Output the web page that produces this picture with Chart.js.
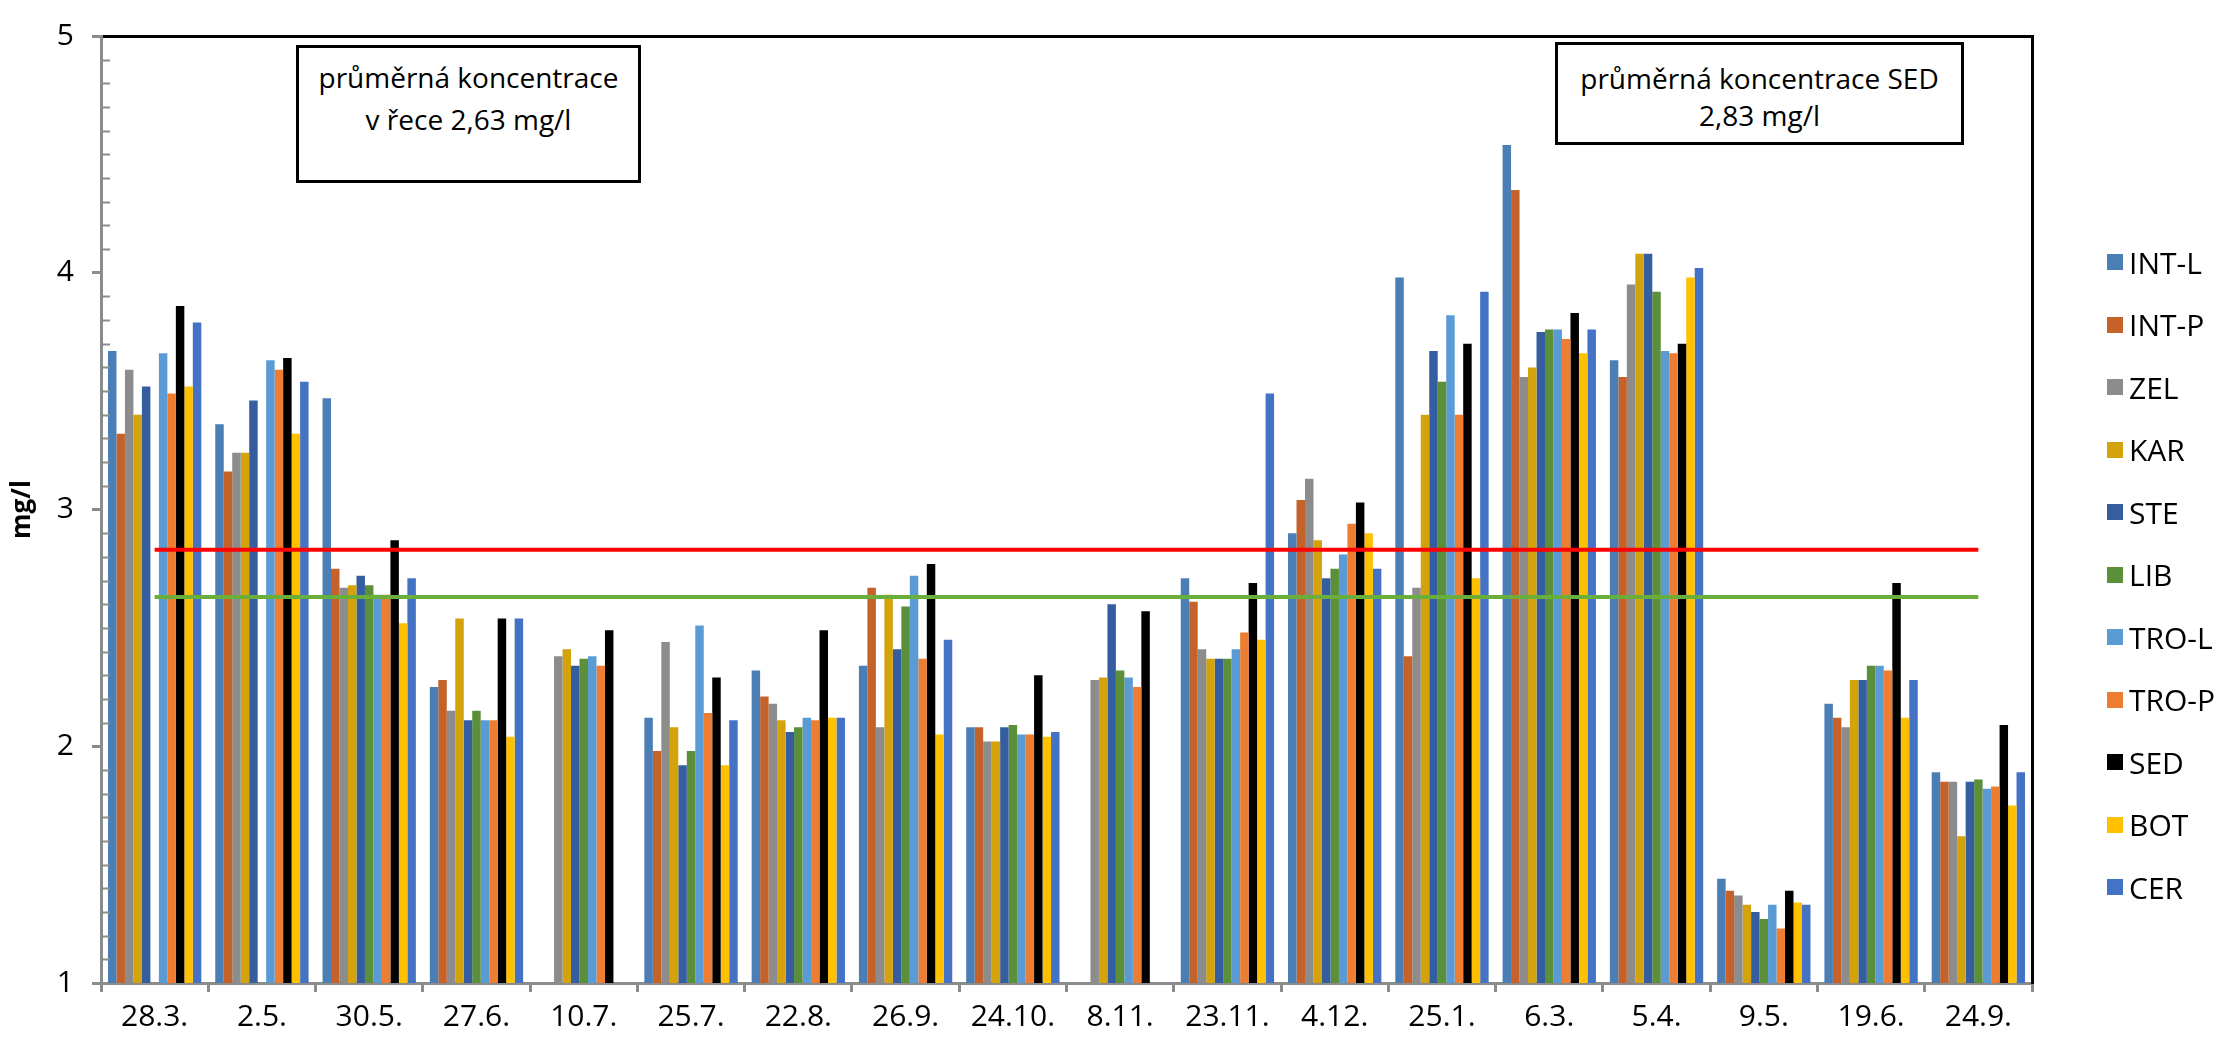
<!DOCTYPE html>
<html>
<head>
<meta charset="utf-8">
<script src="https://cdn.jsdelivr.net/npm/chart.js@4.4.1/dist/chart.umd.min.js"></script>
<style>
  html, body { margin: 0; padding: 0; background: #fff; }
  #wrap { position: relative; width: 2219px; height: 1048px; }
  #chart { position: absolute; left: 0; top: 0; }
  .note {
    position: absolute; box-sizing: border-box; border: 3px solid #000; background: #fff;
    text-align: center; font-family: 'Open Sans', sans-serif; font-size: 28px; color: #000; white-space: nowrap;
  }
  #legend { position: absolute; left: 2107px; top: 231px; font-family: 'Open Sans', sans-serif; font-size: 30px; color: #000; }
  .item { height: 62.5px; display: flex; align-items: center; white-space: nowrap; }
  .swatch { width: 16px; height: 16px; margin-right: 6px; flex: none; }
</style>
</head>
<body>
<div id="wrap">
  <canvas id="chart" width="2219" height="1048"></canvas>
  <div class="note" style="left:296px;top:45px;width:345px;height:138px;padding-top:8px;line-height:42px;">průměrná koncentrace<br>v řece 2,63 mg/l</div>
  <div class="note" style="left:1555px;top:42px;width:409px;height:103px;padding-top:15px;line-height:37px;">průměrná koncentrace SED<br>2,83 mg/l</div>
  <div id="legend"></div>
</div>
<script>
// sampling dates
const dates = ['28.3.', '2.5.', '30.5.', '27.6.', '10.7.', '25.7.', '22.8.', '26.9.', '24.10.',
               '8.11.', '23.11.', '4.12.', '25.1.', '6.3.', '5.4.', '9.5.', '19.6.', '24.9.'];

// concentrations per site (mg/l), null = no sample
const intL = [3.67, 3.36, 3.47, 2.25, null, 2.12, 2.32, 2.34, 2.08, null, 2.71, 2.90, 3.98, 4.54, 3.63, 1.44, 2.18, 1.89];
const intP = [3.32, 3.16, 2.75, 2.28, null, 1.98, 2.21, 2.67, 2.08, null, 2.61, 3.04, 2.38, 4.35, 3.56, 1.39, 2.12, 1.85];
const zel  = [3.59, 3.24, 2.67, 2.15, 2.38, 2.44, 2.18, 2.08, 2.02, 2.28, 2.41, 3.13, 2.67, 3.56, 3.95, 1.37, 2.08, 1.85];
const kar  = [3.40, 3.24, 2.68, 2.54, 2.41, 2.08, 2.11, 2.64, 2.02, 2.29, 2.37, 2.87, 3.40, 3.60, 4.08, 1.33, 2.28, 1.62];
const ste  = [3.52, 3.46, 2.72, 2.11, 2.34, 1.92, 2.06, 2.41, 2.08, 2.60, 2.37, 2.71, 3.67, 3.75, 4.08, 1.30, 2.28, 1.85];
const lib  = [null, null, 2.68, 2.15, 2.37, 1.98, 2.08, 2.59, 2.09, 2.32, 2.37, 2.75, 3.54, 3.76, 3.92, 1.27, 2.34, 1.86];
const troL = [3.66, 3.63, 2.64, 2.11, 2.38, 2.51, 2.12, 2.72, 2.05, 2.29, 2.41, 2.81, 3.82, 3.76, 3.67, 1.33, 2.34, 1.82];
const troP = [3.49, 3.59, 2.64, 2.11, 2.34, 2.14, 2.11, 2.37, 2.05, 2.25, 2.48, 2.94, 3.40, 3.72, 3.66, 1.23, 2.32, 1.83];
const sed  = [3.86, 3.64, 2.87, 2.54, 2.49, 2.29, 2.49, 2.77, 2.30, 2.57, 2.69, 3.03, 3.70, 3.83, 3.70, 1.39, 2.69, 2.09];
const bot  = [3.52, 3.32, 2.52, 2.04, null, 1.92, 2.12, 2.05, 2.04, null, 2.45, 2.90, 2.71, 3.66, 3.98, 1.34, 2.12, 1.75];
const cer  = [3.79, 3.54, 2.71, 2.54, null, 2.11, 2.12, 2.45, 2.06, null, 3.49, 2.75, 3.92, 3.76, 4.02, 1.33, 2.28, 1.89];

// averages drawn as horizontal lines
const riverAvg = [2.63, 2.63, 2.63, 2.63, 2.63, 2.63, 2.63, 2.63, 2.63, 2.63, 2.63, 2.63, 2.63, 2.63, 2.63, 2.63, 2.63, 2.63];
const sedAvg   = [2.83, 2.83, 2.83, 2.83, 2.83, 2.83, 2.83, 2.83, 2.83, 2.83, 2.83, 2.83, 2.83, 2.83, 2.83, 2.83, 2.83, 2.83];

const siteNames = ['INT-L', 'INT-P', 'ZEL', 'KAR', 'STE', 'LIB', 'TRO-L', 'TRO-P', 'SED', 'BOT', 'CER'];
const siteValues = [intL, intP, zel, kar, ste, lib, troL, troP, sed, bot, cer];
const siteColors = ['#4a7eb5', '#c5622a', '#8c8c8c', '#d4a20a', '#355ea0', '#5b8f3a',
                    '#5b9bd5', '#ed7d31', '#000000', '#ffc000', '#4472c4'];
const yTicks = [1, 2, 3, 4, 5];

const axisGray = '#8c8c8c';
const font = { family: 'Open Sans', size: 30 };

// small inside tick marks every 0.1 on the value axis
const minorTicks = {
    id: 'minorTicks',
    afterDatasetsDraw(chart) {
        const ys = chart.scales.y;
        const left = chart.chartArea.left;
        const ctx = chart.ctx;
        ctx.save();
        ctx.strokeStyle = axisGray;
        ctx.lineWidth = 2;
        for (let i = 10; i <= 50; i++) {
            if (i % 10 === 0) continue;
            const py = Math.round(ys.getPixelForValue(i / 10)) + 0.5;
            ctx.beginPath();
            ctx.moveTo(left, py);
            ctx.lineTo(left + 9, py);
            ctx.stroke();
        }
        ctx.restore();
    }
};

const datasets = siteNames.map((name, i) => ({
    type: 'bar',
    label: name,
    data: siteValues[i],
    backgroundColor: siteColors[i],
    borderWidth: 0,
    categoryPercentage: 0.87,
    barPercentage: 1.0,
    order: 1
}));

datasets.push({
    type: 'line', label: 'SED avg', data: sedAvg,
    borderColor: '#ff0000', borderWidth: 4, pointRadius: 0, fill: false, order: 0
});
datasets.push({
    type: 'line', label: 'river avg', data: riverAvg,
    borderColor: '#6aae3c', borderWidth: 4, pointRadius: 0, fill: false, order: 0
});

new Chart(document.getElementById('chart'), {
    type: 'bar',
    data: { labels: dates, datasets: datasets },
    options: {
        responsive: false,
        animation: false,
        layout: { padding: { left: 0, right: 179, top: 20, bottom: 6 } },
        plugins: { legend: { display: false }, tooltip: { enabled: false } },
        scales: {
            x: {
                ticks: { font: font, color: '#000', padding: 7, maxRotation: 0, autoSkip: false },
                grid: { drawOnChartArea: false, tickLength: 9, color: axisGray, lineWidth: 3, offset: true },
                border: { color: axisGray, width: 3 }
            },
            x2: {
                axis: 'x', type: 'category', position: 'top',
                grid: { display: false }, ticks: { display: false },
                border: { color: '#000', width: 3 }
            },
            y: {
                min: 1, max: 5,
                afterBuildTicks: (scale) => { scale.ticks = yTicks.map(v => ({ value: v })); },
                ticks: { font: font, color: '#000', padding: 18 },
                grid: { drawOnChartArea: false, tickLength: 9, color: axisGray, lineWidth: 3 },
                border: { color: axisGray, width: 3 },
                title: {
                    display: true, text: 'mg/l', color: '#000',
                    font: { family: 'Open Sans', size: 26, weight: 'bold' },
                    padding: { top: 7, bottom: 0 }
                },
                afterFit: (scale) => { scale.width = 101; }
            },
            y2: {
                axis: 'y', position: 'right', min: 1, max: 5,
                grid: { display: false }, ticks: { display: false },
                border: { color: '#000', width: 3 }
            }
        }
    },
    plugins: [minorTicks]
});

// legend on the right
const legend = document.getElementById('legend');
siteNames.forEach((name, i) => {
    const item = document.createElement('div');
    item.className = 'item';
    item.innerHTML = '<span class="swatch" style="background:' + siteColors[i] + '"></span><span>' + name + '</span>';
    legend.appendChild(item);
});
</script>
</body>
</html>
